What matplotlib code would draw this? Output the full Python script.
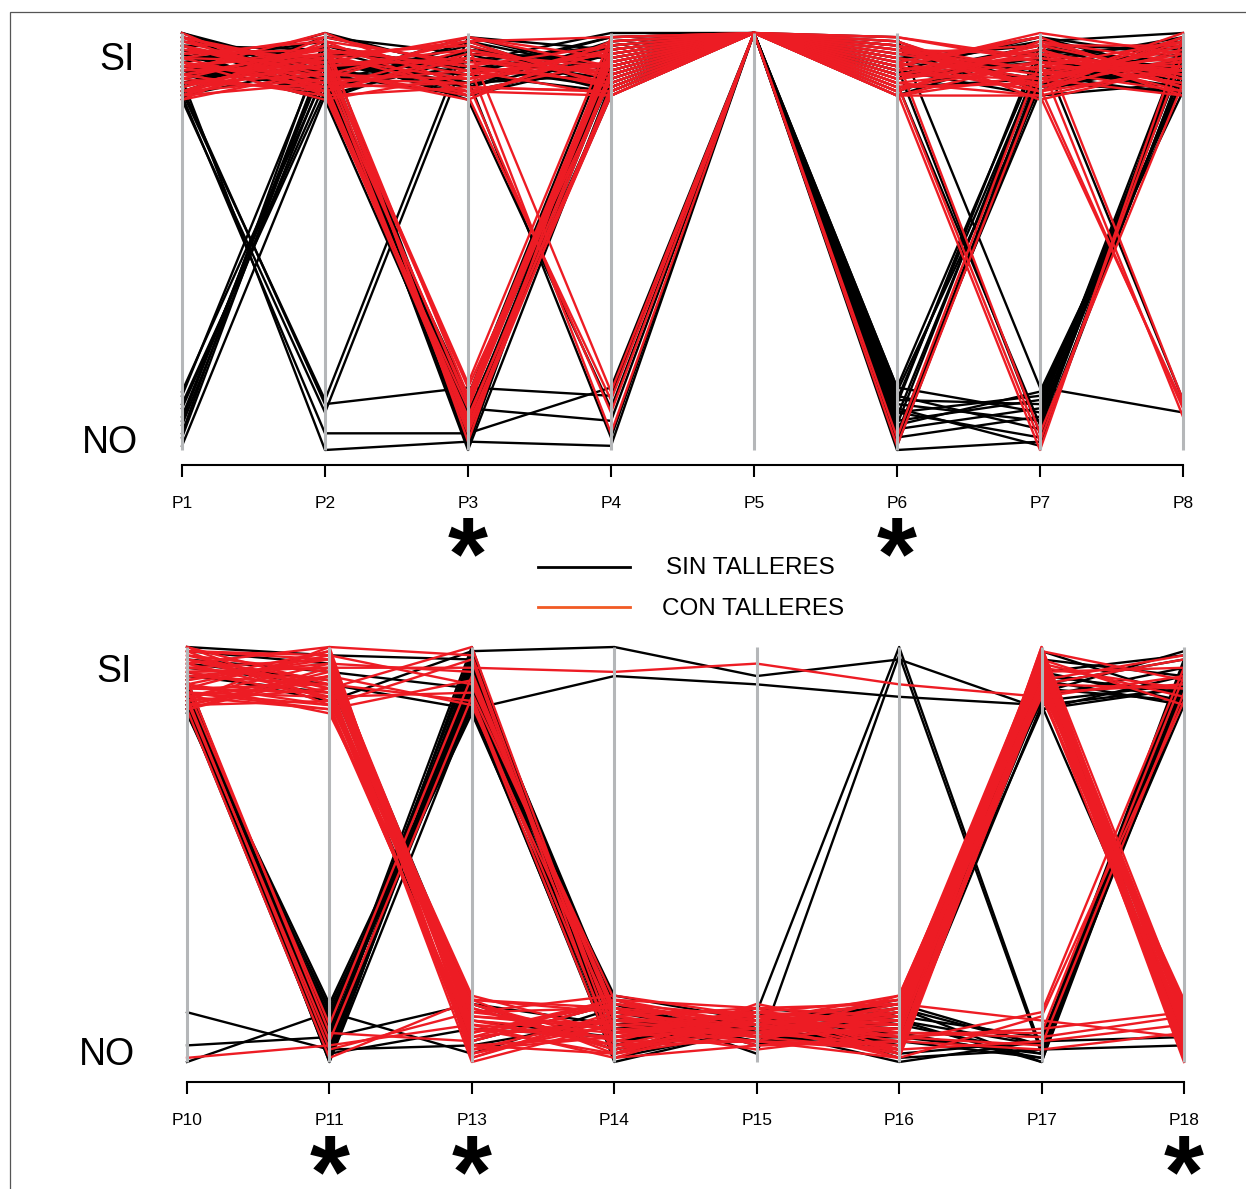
import matplotlib
matplotlib.use("Agg")
import matplotlib.pyplot as plt
from matplotlib.lines import Line2D
from matplotlib.patches import Rectangle

plt.rcParams['font.family'] = ['Liberation Sans', 'DejaVu Sans']

# question labels of the two panels
preguntas_top = ['P1', 'P2', 'P3', 'P4', 'P5', 'P6', 'P7', 'P8']
preguntas_bot = ['P10', 'P11', 'P13', 'P14', 'P15', 'P16', 'P17', 'P18']
# questions marked with an asterisk (significant)
signif_top = ['P3', 'P6']
signif_bot = ['P11', 'P13', 'P18']

# answers of each respondent, as position on the axis in percent
# (0 = NO ... 16 jittered band, 84 ... 100 = SI band)
sin_top = [
    [3, 95, 8, 92, 100, 90, 97, 88],
    [10, 88, 3, 97, 100, 94, 89, 93],
    [6, 91, 95, 86, 100, 12, 93, 90],
    [13, 97, 90, 99, 100, 5, 10, 95],
    [1, 85, 12, 89, 100, 98, 86, 99],
    [8, 93, 87, 95, 100, 2, 88, 86],
    [11, 86, 98, 91, 100, 9, 3, 92],
    [4, 99, 92, 87, 100, 15, 95, 97],
    [14, 90, 85, 93, 100, 7, 12, 89],
    [7, 95, 93, 100, 100, 88, 6, 94],
    [86, 12, 99, 96, 100, 95, 91, 87],
    [84, 9, 96, 90, 100, 92, 98, 100],
    [87, 11, 15, 13, 100, 11, 97, 91],
    [85, 4, 4, 15, 100, 3, 8, 96],
    [89, 0, 2, 1, 100, 97, 90, 85],
    [92, 90, 10, 7, 100, 89, 94, 98],
    [96, 84, 6, 94, 100, 14, 87, 92],
    [99, 92, 0, 88, 100, 6, 14, 86],
    [91, 87, 13, 98, 100, 93, 99, 90],
    [94, 96, 5, 90, 100, 1, 90, 95],
    [100, 89, 9, 86, 100, 91, 85, 88],
    [88, 94, 1, 96, 100, 10, 1, 99],
    [97, 86, 11, 92, 100, 86, 96, 93],
    [93, 98, 7, 85, 100, 96, 88, 91],
    [90, 91, 88, 97, 100, 8, 92, 87],
    [95, 85, 94, 89, 100, 13, 5, 97],
    [98, 93, 86, 93, 100, 4, 86, 94],
    [86, 97, 91, 99, 100, 12, 11, 89],
    [92, 88, 97, 87, 100, 0, 2, 92],
    [89, 95, 84, 10, 100, 94, 97, 96],
    [96, 90, 89, 3, 100, 87, 89, 90],
    [87, 99, 95, 94, 100, 6, 94, 85],
    [99, 87, 92, 88, 100, 15, 9, 98],
    [94, 94, 85, 95, 100, 2, 91, 93],
    [91, 89, 99, 91, 100, 9, 13, 88],
    [85, 92, 90, 86, 100, 11, 7, 95],
    [97, 96, 87, 98, 100, 92, 4, 91],
    [93, 84, 96, 92, 100, 99, 15, 9],
    [100, 91, 93, 97, 100, 90, 93, 99],
    [88, 97, 88, 90, 100, 85, 96, 12],
    [95, 86, 98, 87, 100, 97, 88, 86],
    [90, 100, 91, 96, 100, 91, 99, 94],
]

con_top = [
    [92, 96, 5, 90, 100, 94, 88, 97],
    [88, 90, 12, 95, 100, 89, 95, 91],
    [97, 87, 8, 86, 100, 97, 91, 86],
    [85, 99, 2, 98, 100, 86, 98, 93],
    [94, 93, 15, 89, 100, 92, 86, 99],
    [90, 85, 10, 93, 100, 99, 93, 88],
    [99, 91, 4, 87, 100, 90, 89, 95],
    [86, 97, 13, 96, 100, 95, 97, 90],
    [93, 88, 7, 91, 100, 88, 85, 92],
    [96, 94, 16, 99, 100, 93, 99, 87],
    [89, 86, 6, 85, 100, 87, 92, 98],
    [91, 92, 11, 94, 100, 96, 87, 94],
    [87, 95, 97, 14, 100, 91, 94, 89],
    [98, 89, 88, 9, 100, 85, 90, 96],
    [95, 98, 93, 4, 100, 98, 86, 91],
    [84, 91, 85, 12, 100, 90, 96, 85],
    [93, 87, 96, 88, 100, 1, 89, 97],
    [90, 96, 90, 95, 100, 3, 93, 92],
    [86, 93, 99, 92, 100, 88, 2, 95],
    [99, 85, 87, 86, 100, 94, 4, 88],
    [94, 99, 92, 97, 100, 86, 0, 99],
    [88, 92, 94, 90, 100, 97, 87, 10],
    [97, 88, 86, 93, 100, 89, 93, 8],
    [85, 94, 98, 87, 100, 92, 99, 12],
    [92, 90, 89, 96, 100, 85, 85, 11],
    [100, 86, 95, 92, 100, 96, 91, 94],
    [89, 97, 91, 85, 100, 91, 96, 87],
    [96, 91, 84, 98, 100, 87, 88, 100],
    [87, 95, 97, 89, 100, 99, 94, 90],
    [93, 84, 90, 95, 100, 93, 86, 96],
    [98, 93, 93, 91, 100, 86, 98, 89],
    [91, 100, 87, 86, 100, 95, 90, 93],
    [86, 89, 99, 94, 100, 90, 95, 86],
    [95, 96, 92, 88, 100, 98, 87, 98],
    [88, 87, 88, 97, 100, 88, 92, 91],
    [99, 92, 96, 90, 100, 94, 89, 85],
    [84, 98, 85, 96, 100, 89, 97, 97],
    [94, 86, 94, 87, 100, 97, 84, 92],
    [90, 94, 89, 93, 100, 85, 93, 88],
    [97, 90, 98, 99, 100, 92, 100, 95],
    [85, 88, 91, 92, 100, 87, 88, 99],
    [92, 95, 86, 85, 100, 96, 95, 90],
]

sin_bot = [
    [12, 3, 4, 10, 7, 5, 88, 95],
    [4, 6, 14, 3, 11, 9, 2, 92],
    [0, 12, 2, 13, 4, 12, 94, 87],
    [86, 2, 8, 6, 9, 2, 5, 6],
    [90, 8, 97, 12, 8, 14, 91, 97],
    [85, 1, 92, 4, 12, 100, 3, 89],
    [88, 10, 88, 15, 6, 7, 1, 94],
    [91, 4, 99, 8, 10, 3, 86, 90],
    [84, 13, 85, 2, 13, 10, 4, 96],
    [89, 0, 94, 11, 5, 6, 95, 5],
    [87, 7, 90, 5, 9, 13, 0, 91],
    [92, 5, 96, 14, 2, 98, 2, 88],
    [85, 11, 86, 1, 8, 4, 89, 99],
    [90, 3, 93, 9, 7, 11, 6, 86],
    [86, 14, 87, 16, 10, 8, 97, 93],
    [88, 6, 98, 7, 12, 1, 3, 4],
    [84, 9, 89, 3, 9, 15, 87, 91],
    [91, 2, 95, 12, 6, 5, 1, 95],
    [87, 12, 84, 6, 11, 9, 93, 89],
    [89, 1, 91, 10, 8, 0, 5, 97],
    [86, 8, 100, 2, 9, 12, 90, 87],
    [92, 4, 88, 13, 7, 6, 2, 92],
    [85, 10, 94, 5, 10, 3, 96, 8],
    [90, 0, 86, 8, 9, 14, 4, 94],
    [88, 6, 92, 0, 8, 7, 85, 90],
    [97, 94, 90, 11, 5, 10, 0, 96],
    [100, 98, 97, 4, 12, 2, 99, 88],
    [94, 87, 99, 100, 93, 97, 85, 93],
    [95, 91, 85, 93, 91, 88, 86, 7],
    [99, 96, 14, 9, 11, 4, 94, 98],
    [93, 89, 5, 14, 6, 13, 4, 90],
    [96, 92, 10, 6, 10, 8, 92, 86],
]

con_bot = [
    [1, 4, 9, 6, 10, 3, 92, 5],
    [88, 3, 12, 8, 5, 13, 95, 90],
    [92, 7, 5, 14, 9, 6, 8, 12],
    [85, 1, 15, 2, 12, 9, 89, 3],
    [90, 9, 93, 11, 7, 14, 97, 10],
    [87, 5, 88, 4, 11, 1, 91, 7],
    [94, 95, 95, 94, 96, 91, 88, 93],
    [97, 90, 100, 7, 8, 11, 99, 2],
    [91, 98, 91, 13, 4, 5, 12, 95],
    [99, 86, 97, 2, 10, 16, 93, 9],
    [86, 93, 86, 10, 6, 8, 96, 88],
    [96, 100, 98, 5, 13, 2, 90, 14],
    [89, 88, 89, 15, 9, 12, 98, 6],
    [93, 96, 94, 8, 3, 7, 6, 11],
    [100, 91, 87, 1, 11, 10, 94, 4],
    [88, 85, 92, 12, 7, 4, 100, 13],
    [95, 97, 3, 6, 12, 15, 91, 97],
    [90, 89, 11, 9, 5, 3, 97, 1],
    [98, 94, 7, 14, 8, 9, 89, 8],
    [86, 87, 14, 3, 10, 6, 4, 89],
    [92, 99, 1, 11, 6, 13, 95, 12],
    [97, 92, 10, 7, 9, 1, 99, 92],
    [89, 86, 6, 15, 13, 11, 92, 3],
    [94, 95, 13, 4, 7, 8, 96, 10],
    [87, 90, 2, 10, 11, 14, 10, 6],
    [99, 98, 9, 1, 4, 5, 90, 14],
    [91, 84, 15, 12, 12, 10, 97, 86],
    [85, 93, 4, 6, 8, 2, 100, 7],
    [96, 88, 12, 13, 6, 12, 93, 0],
    [88, 96, 8, 2, 14, 7, 7, 93],
    [93, 91, 0, 9, 9, 15, 98, 11],
    [100, 87, 14, 5, 5, 4, 91, 90],
    [90, 99, 5, 14, 11, 9, 95, 5],
    [86, 94, 11, 8, 7, 12, 88, 13],
    [97, 89, 3, 11, 13, 3, 5, 9],
    [92, 97, 13, 3, 10, 8, 99, 2],
    [89, 85, 7, 15, 6, 16, 94, 95],
    [95, 92, 16, 7, 12, 6, 97, 8],
    [87, 100, 1, 12, 8, 11, 90, 15],
    [98, 90, 10, 4, 5, 1, 11, 87],
    [91, 86, 6, 10, 9, 13, 96, 4],
    [85, 95, 12, 16, 11, 7, 92, 98],
    [94, 88, 4, 2, 7, 10, 98, 12],
    [88, 93, 15, 13, 10, 5, 3, 7],
    [99, 97, 8, 6, 13, 14, 93, 1],
    [90, 91, 2, 9, 6, 3, 89, 91],
]

W, H = 1246, 1189
RED = '#ed1c24'
ORANGE = '#f15a24'
GREY = '#b5b7b9'


def fx(px):
    return px / W


def fy(py):
    return 1 - py / H


fig = plt.figure(figsize=(W / 100, H / 100), dpi=100)

# thin frame round the figure (only left and top edge visible)
fig.add_artist(Rectangle((fx(10), -0.1), 1.2, fy(12) + 0.1, fill=False,
                         edgecolor='#555555', lw=0.9, transform=fig.transFigure))


def draw_panel(x0, x1, ytop, ybot, labels, sin_rows, con_rows, outward):
    ax = fig.add_axes([fx(x0), fy(ybot), (x1 - x0) / W, (ybot - ytop) / H])
    xs = list(range(len(labels)))
    for row in sin_rows:
        ax.plot(xs, row, color='black', lw=1.7, clip_on=False, zorder=2)
    for row in con_rows:
        ax.plot(xs, row, color=RED, lw=1.7, clip_on=False, zorder=3)
    ax.vlines(xs, 0, 100, color=GREY, lw=2.2, zorder=4, clip_on=False)
    ax.set_xlim(0, len(labels) - 1)
    ax.set_ylim(0, 100)
    for s in ['top', 'left', 'right']:
        ax.spines[s].set_visible(False)
    ax.spines['bottom'].set_position(('outward', outward))
    ax.spines['bottom'].set_bounds(0, len(labels) - 1)
    ax.spines['bottom'].set_linewidth(1.5)
    ax.set_yticks([])
    ax.set_xticks(xs)
    ax.set_xticklabels(labels)
    ax.tick_params(axis='x', length=8.6, width=1.5, pad=14, labelsize=12.5)
    ax.patch.set_visible(False)
    return ax


ax1 = draw_panel(182, 1183, 33, 450, preguntas_top, sin_top, con_top, 10.8)
ax2 = draw_panel(187, 1184, 647, 1062, preguntas_bot, sin_bot, con_bot, 14.4)

# SI / NO labels
fig.text(fx(117), fy(70), 'SI', ha='center', va='baseline', fontsize=27)
fig.text(fx(110), fy(453), 'NO', ha='center', va='baseline', fontsize=27)
fig.text(fx(114), fy(682), 'SI', ha='center', va='baseline', fontsize=27)
fig.text(fx(107), fy(1065), 'NO', ha='center', va='baseline', fontsize=27)

# asterisks under significant questions
for ax, labels, sig, off in [(ax1, preguntas_top, signif_top, -139),
                             (ax2, preguntas_bot, signif_bot, -145)]:
    for name in sig:
        i = labels.index(name)
        ax.annotate('*', xy=(i, 0), xycoords=('data', 'axes fraction'),
                    xytext=(0, off), textcoords='offset pixels',
                    ha='center', va='baseline', fontsize=74, fontweight='bold',
                    annotation_clip=False)

# legend
fig.add_artist(Line2D([fx(538), fx(630)], [fy(567), fy(567)], color='black', lw=2,
                      transform=fig.transFigure))
fig.add_artist(Line2D([fx(538), fx(630)], [fy(607), fy(607)], color=ORANGE, lw=2,
                      transform=fig.transFigure))
fig.text(fx(750), fy(568), 'SIN TALLERES', ha='center', va='center', fontsize=17.5)
fig.text(fx(753), fy(609), 'CON TALLERES', ha='center', va='center', fontsize=17.5)

fig.savefig('out.png', dpi=100)
